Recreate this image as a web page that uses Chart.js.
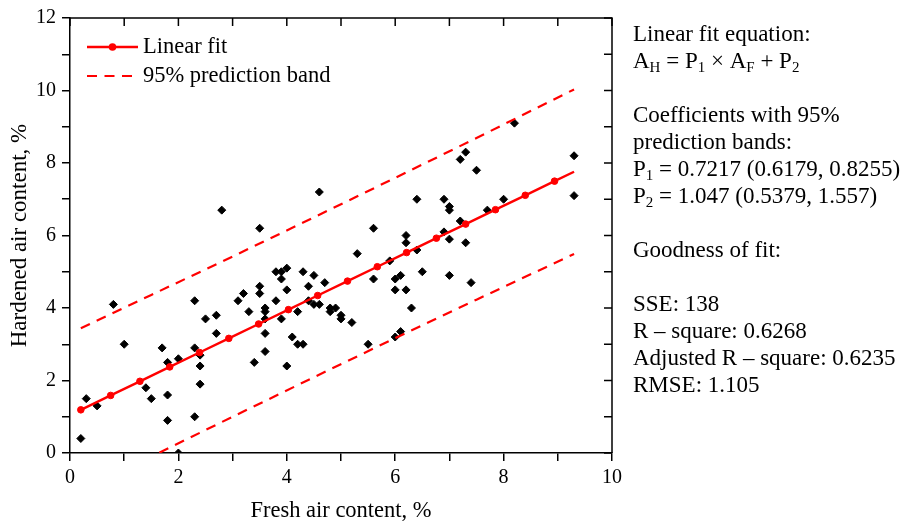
<!DOCTYPE html>
<html><head><meta charset="utf-8">
<script src="https://cdn.jsdelivr.net/npm/chart.js@4.4.0/dist/chart.umd.min.js"></script>
<style>html,body{margin:0;padding:0;background:#fff;} #wrap{width:900px;height:525px;position:relative;}</style>
</head><body><div id="wrap"><canvas id="c" width="900" height="525"></canvas></div>
<script>
// ---- data ----
const freshAir = [0.2,0.3,0.5,0.8,1.0,1.4,1.5,1.7,1.8,1.8,1.8,2.0,2.0,2.3,2.3,2.3,2.4,2.4,2.4,2.5,
  2.7,2.7,2.8,3.1,3.2,3.3,3.4,3.5,3.5,3.5,3.6,3.6,3.6,3.6,3.6,3.8,3.8,3.9,3.9,3.9,
  4.0,4.0,4.0,4.1,4.2,4.2,4.3,4.3,4.4,4.4,4.5,4.5,4.6,4.6,4.7,4.8,4.8,4.9,5.0,5.0,
  5.2,5.3,5.5,5.6,5.6,5.9,6.0,6.0,6.0,6.1,6.1,6.2,6.2,6.2,6.3,6.4,6.4,6.5,6.9,6.9,
  7.0,7.0,7.0,7.0,7.2,7.2,7.3,7.3,7.4,7.5,7.7,8.0,8.2,9.3,9.3];
const hardenedAir = [0.4,1.5,1.3,4.1,3.0,1.8,1.5,2.9,2.5,1.6,0.9,2.6,0.0,4.2,2.9,1.0,2.7,2.4,1.9,3.7,
  3.8,3.3,6.7,4.2,4.4,3.9,2.5,6.2,4.6,4.4,4.0,3.9,3.7,3.3,2.8,5.0,4.2,5.0,4.8,3.7,
  5.1,4.5,2.4,3.2,3.9,3.0,5.0,3.0,4.6,4.2,4.9,4.1,7.2,4.1,4.7,4.0,3.9,4.0,3.8,3.7,
  3.6,5.5,3.0,6.2,4.8,5.3,4.8,4.5,3.2,4.9,3.35,6.0,5.8,4.5,4.0,7.0,5.6,5.0,7.0,6.1,
  6.8,6.7,5.9,4.9,8.1,6.4,8.3,5.8,4.7,7.8,6.7,7.0,9.1,8.2,7.1];
const fitX = [0.2,0.75,1.29,1.84,2.39,2.93,3.48,4.03,4.57,5.12,5.67,6.21,6.76,7.30,7.85,8.40,8.94,9.30];
const fitY = [1.191,1.588,1.978,2.375,2.772,3.162,3.559,3.955,4.345,4.742,5.139,5.529,5.926,6.315,6.712,7.109,7.499,7.759];
const bandX = [0.2,1.5,3.0,4.5,6.0,7.5,9.3];
const upperBand = [3.44,4.36,5.42,6.50,7.59,8.69,10.03];
const lowerBand = [-1.06,-0.10,1.00,2.09,3.17,4.23,5.49];
const xTickLabels = [0,2,4,6,8,10];
const yTickLabels = [0,2,4,6,8,10,12];
const seriesLabels = ['Linear fit','95% prediction band','Data'];
const xTitle = 'Fresh air content, %';
const yTitle = 'Hardened air content, %';
const infoLines = [
  'Linear fit equation:',
  'A_{H} = P_{1} × A_{F} + P_{2}',
  '',
  'Coefficients with 95%',
  'prediction bands:',
  'P_{1} = 0.7217 (0.6179, 0.8255)',
  'P_{2} = 1.047 (0.5379, 1.557)',
  '',
  'Goodness of fit:',
  '',
  'SSE: 138',
  'R – square: 0.6268',
  'Adjusted R – square: 0.6235',
  'RMSE: 1.105'
];

const SERIF = '"Liberation Serif", "Times New Roman", serif';
const RED = '#ff0000';
const DASH = [10, 7.5];

const pts = (xs, ys) => xs.map((x, i) => ({x: x, y: ys[i]}));

const overlay = {
  id: 'overlay',
  afterDraw(chart) {
    const ctx = chart.ctx;
    const a = chart.chartArea;
    const xs = chart.scales.x, ys = chart.scales.y;
    ctx.save();
    // top and right frame with inward ticks
    ctx.strokeStyle = '#000';
    ctx.lineWidth = 1.5;
    ctx.beginPath();
    ctx.moveTo(a.left, a.top); ctx.lineTo(a.right, a.top); ctx.lineTo(a.right, a.bottom);
    ctx.stroke();
    ctx.beginPath();
    for (let v = 0; v <= 10; v++) {
      const px = xs.getPixelForValue(v);
      ctx.moveTo(px, a.top); ctx.lineTo(px, a.top + 8);
    }
    for (let v = 0; v <= 12; v++) {
      const py = ys.getPixelForValue(v);
      ctx.moveTo(a.right, py); ctx.lineTo(a.right - 8, py);
    }
    ctx.stroke();

    // legend
    const ds = chart.data.datasets;
    const lx0 = a.left + 17, lx1 = a.left + 68, tx = a.left + 73;
    ctx.font = '22.5px ' + SERIF;
    ctx.fillStyle = '#000';
    ctx.textBaseline = 'middle';
    ctx.textAlign = 'left';
    let ly = 47;
    ctx.strokeStyle = RED; ctx.lineWidth = 2.4; ctx.setLineDash([]);
    ctx.beginPath(); ctx.moveTo(lx0, ly); ctx.lineTo(lx1, ly); ctx.stroke();
    ctx.fillStyle = RED;
    ctx.beginPath(); ctx.arc((lx0 + lx1) / 2, ly, 3.8, 0, Math.PI * 2); ctx.fill();
    ctx.fillStyle = '#000';
    ctx.fillText(ds[0].label, tx, ly);
    ly = 76;
    ctx.lineWidth = 2.2;
    ctx.setLineDash(DASH);
    ctx.beginPath(); ctx.moveTo(lx0, ly); ctx.lineTo(lx1, ly); ctx.stroke();
    ctx.setLineDash([]);
    ctx.fillText(ds[1].label, tx, ly);

    // info text at the right
    ctx.textBaseline = 'alphabetic';
    const baseX = 633;
    infoLines.forEach((line, i) => {
      if (!line) return;
      const by = 40.7 + 27 * i;
      let x = baseX;
      const parts = line.split(/(_\{[^}]*\})/);
      parts.forEach(p => {
        if (!p) return;
        const m = p.match(/^_\{([^}]*)\}$/);
        if (m) {
          ctx.font = '15px ' + SERIF;
          ctx.fillText(m[1], x, by + 4);
          x += ctx.measureText(m[1]).width;
        } else {
          ctx.font = '23px ' + SERIF;
          ctx.fillText(p, x, by);
          x += ctx.measureText(p).width;
        }
      });
    });
    ctx.restore();
  }
};

new Chart(document.getElementById('c'), {
  type: 'scatter',
  data: {
    datasets: [
      {
        label: seriesLabels[0],
        data: pts(fitX, fitY),
        showLine: true,
        borderColor: RED,
        backgroundColor: RED,
        borderWidth: 2.4,
        pointRadius: fitX.map((_, i) => i < fitX.length - 1 ? 3.3 : 0),
        pointBorderWidth: 1,
        pointBorderColor: RED,
        pointBackgroundColor: RED,
        tension: 0,
        clip: 0
      },
      {
        label: seriesLabels[1],
        data: pts(bandX, upperBand),
        showLine: true,
        borderColor: RED,
        borderWidth: 2.2,
        borderDash: DASH,
        pointRadius: 0,
        tension: 0,
        clip: 0
      },
      {
        label: seriesLabels[1] + ' (lower)',
        data: pts(bandX, lowerBand),
        showLine: true,
        borderColor: RED,
        borderWidth: 2.2,
        borderDash: DASH,
        pointRadius: 0,
        tension: 0,
        clip: 0
      },
      {
        label: seriesLabels[2],
        data: pts(freshAir, hardenedAir),
        showLine: false,
        pointStyle: 'rectRot',
        pointRadius: 4,
        pointBorderWidth: 1,
        pointBackgroundColor: '#000',
        pointBorderColor: '#000',
        clip: 0
      }
    ]
  },
  options: {
    responsive: false,
    animation: false,
    devicePixelRatio: 1,
    layout: { padding: { top: 17.7, right: 288, left: 0, bottom: 0 } },
    plugins: { legend: { display: false }, tooltip: { enabled: false } },
    scales: {
      x: {
        type: 'linear', min: 0, max: 10,
        afterFit: (s) => { s.height = 72; },
        ticks: {
          stepSize: 1, autoSkip: false, maxRotation: 0,
          padding: 5,
          color: '#000',
          font: { family: SERIF, size: 20 },
          callback: (v) => xTickLabels.includes(v) ? String(v) : ''
        },
        grid: { drawOnChartArea: false, drawTicks: true, tickLength: 8, color: '#000', lineWidth: 1.5 },
        border: { display: true, color: '#000', width: 1.5 },
        title: { display: true, text: xTitle, color: '#000', font: { family: SERIF, size: 22.5 }, padding: { top: 0, bottom: 0 } }
      },
      y: {
        type: 'linear', min: 0, max: 12,
        afterFit: (s) => { s.width = 70; },
        ticks: {
          stepSize: 1, autoSkip: false,
          padding: 6,
          color: '#000',
          font: { family: SERIF, size: 20 },
          callback: (v) => yTickLabels.includes(v) ? String(v) : ''
        },
        grid: { drawOnChartArea: false, drawTicks: true, tickLength: 8, color: '#000', lineWidth: 1.5 },
        border: { display: true, color: '#000', width: 1.5 },
        title: { display: true, text: yTitle, color: '#000', font: { family: SERIF, size: 23 }, padding: { top: 6, bottom: 0 } }
      }
    }
  },
  plugins: [overlay]
});
</script>
</body></html>
